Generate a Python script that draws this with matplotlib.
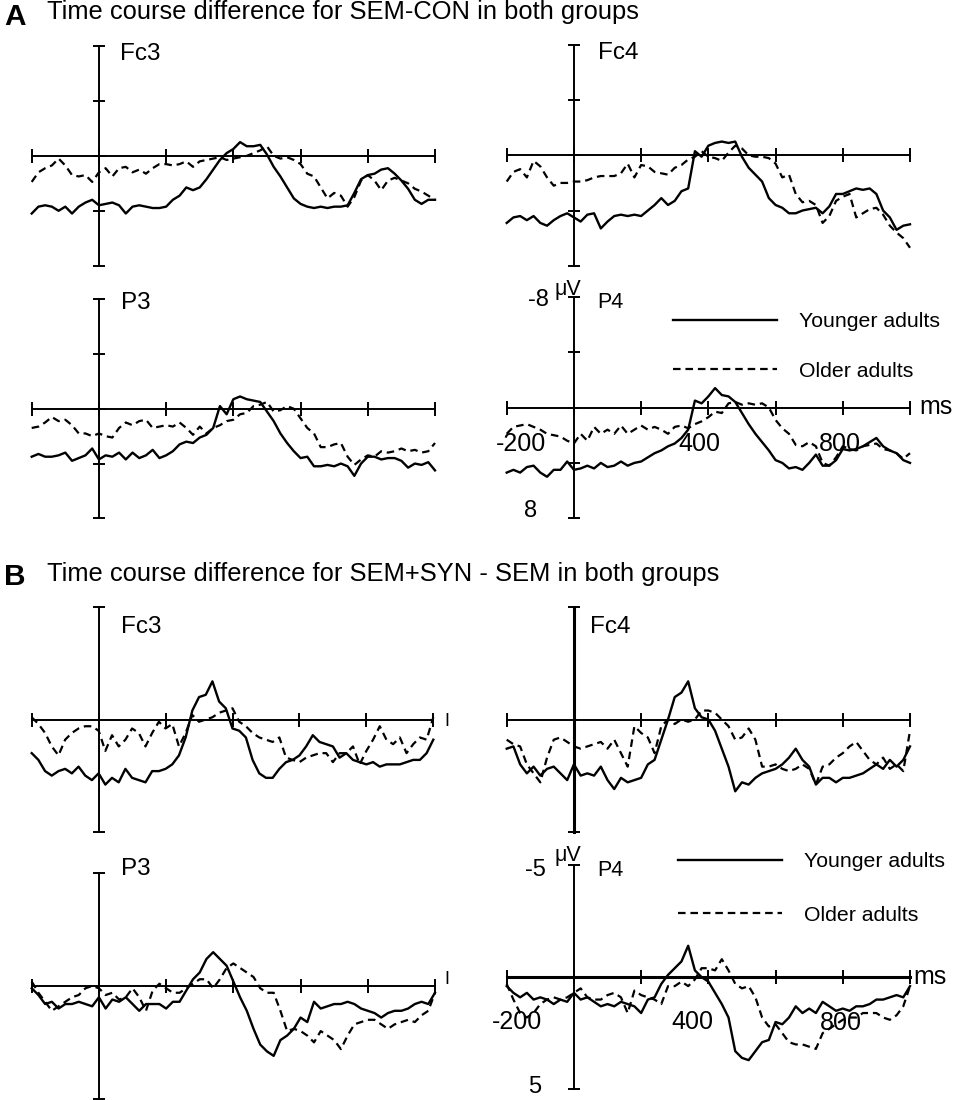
import numpy as np
import matplotlib
matplotlib.use("Agg")
import matplotlib.pyplot as plt

plt.rcParams['font.family'] = ['Liberation Sans', 'DejaVu Sans']

W, H = 970, 1100

# time axis (ms), one sample every 20 ms
t_ms = np.arange(-200, 1001, 20)

# A: SEM-CON difference (uV, negative up)
a_fc3_young = [4.2, 3.7, 3.6, 3.7, 4.0, 3.7, 4.2, 3.7, 3.4, 3.2,
               3.6, 3.5, 3.4, 3.6, 4.2, 3.7, 3.6, 3.7, 3.8, 3.8,
               3.7, 3.2, 2.9, 2.3, 2.5, 2.3, 1.7, 1.0, 0.3, -0.2,
               -0.5, -1.0, -0.7, -0.7, -0.8, -0.1, 0.8, 1.5, 2.3, 3.1,
               3.5, 3.7, 3.8, 3.7, 3.8, 3.7, 3.7, 3.6, 2.7, 1.7,
               1.4, 1.3, 1.0, 0.9, 1.3, 1.8, 2.4, 3.2, 3.5, 3.2, 3.2]
a_fc3_old = [1.9, 1.2, 0.9, 0.7, 0.2, 0.7, 1.4, 1.5, 1.4, 1.9,
             1.2, 0.9, 1.5, 0.9, 0.8, 1.2, 1.0, 1.3, 0.9, 0.6,
             0.6, 0.7, 0.6, 0.4, 0.8, 0.4, 0.3, 0.2, 0.1, 0.3,
             0.2, 0.1, 0.0, -0.2, -0.4, -0.7, 0.0, 0.2, 0.1, 0.3,
             0.6, 1.3, 1.5, 2.3, 3.1, 2.7, 2.9, 3.7, 3.0, 1.8,
             1.4, 1.8, 2.5, 1.8, 1.6, 1.8, 2.0, 2.4, 2.6, 2.9, 3.2]
a_fc4_young = [4.9, 4.5, 4.4, 4.7, 4.4, 4.9, 5.1, 4.7, 4.4, 4.2,
               4.5, 4.8, 4.3, 4.2, 5.3, 4.8, 4.4, 4.3, 4.4, 4.3,
               4.4, 4.0, 3.6, 3.1, 3.6, 3.3, 2.6, 2.4, -0.3, 0.1,
               -0.7, -0.9, -1.0, -0.9, -1.0, 0.1, 0.9, 1.4, 1.9, 3.1,
               3.6, 3.8, 4.2, 4.2, 4.0, 3.9, 3.8, 4.2, 3.7, 2.8,
               2.8, 2.6, 2.4, 2.5, 2.4, 2.8, 4.0, 4.5, 5.4, 5.1, 5.0]
a_fc4_old = [1.9, 1.2, 1.0, 1.6, 0.4, 0.8, 1.6, 2.2, 2.0, 2.0,
             1.9, 1.9, 1.8, 1.6, 1.5, 1.5, 1.5, 1.3, 0.6, 1.6,
             0.7, 0.8, 1.2, 1.3, 1.4, 0.9, 0.7, 0.3, 0.1, -0.3,
             0.1, 0.2, 0.4, -0.2, -0.7, -0.5, 0.0, 0.1, 0.1, 0.2,
             0.6, 1.6, 1.4, 2.8, 3.4, 3.3, 3.6, 4.9, 4.4, 3.3,
             3.0, 2.8, 4.5, 4.2, 3.9, 3.8, 4.3, 5.1, 5.6, 6.0, 6.7]
a_p3_young = [3.5, 3.3, 3.5, 3.5, 3.4, 3.2, 3.8, 3.6, 3.4, 2.9,
              3.7, 3.4, 3.5, 3.2, 3.7, 3.2, 3.6, 3.4, 3.0, 3.6,
              3.4, 3.1, 2.6, 2.4, 2.5, 2.1, 1.9, 1.4, -0.2, 0.4,
              -0.7, -0.9, -0.7, -0.6, -0.5, 0.2, 0.9, 1.8, 2.5, 3.1,
              3.6, 3.5, 4.2, 4.2, 4.1, 4.2, 4.0, 4.2, 4.9, 4.0,
              3.5, 3.5, 3.7, 3.6, 3.6, 3.8, 4.3, 4.0, 4.1, 3.9, 4.5]
a_p3_old = [1.4, 1.3, 1.0, 0.6, 0.9, 0.8, 1.2, 1.8, 1.8, 2.0,
            1.8, 2.0, 2.1, 1.4, 1.0, 1.2, 0.9, 0.8, 1.4, 1.3,
            1.2, 1.3, 1.0, 1.4, 1.9, 1.3, 1.8, 1.4, 1.2, 0.9,
            0.8, 0.4, 0.3, -0.2, -0.3, -0.5, 0.2, 0.1, -0.2, 0.0,
            0.7, 1.4, 1.8, 2.8, 2.8, 2.6, 2.5, 3.5, 4.1, 3.7,
            3.4, 3.5, 3.1, 3.2, 3.1, 2.9, 3.1, 3.0, 3.2, 3.1, 2.5]
a_p4_young = [4.7, 4.5, 4.7, 4.3, 4.2, 4.7, 5.0, 4.5, 4.5, 3.9,
              4.5, 4.4, 4.2, 4.4, 4.0, 4.3, 4.2, 3.9, 4.2, 4.0,
              3.9, 3.6, 3.3, 3.1, 2.8, 2.6, 2.2, 1.6, -0.5, -0.3,
              -0.8, -1.4, -0.9, -0.8, -0.4, 0.4, 1.2, 1.9, 2.5, 3.1,
              3.8, 4.0, 4.4, 4.3, 4.5, 4.0, 3.4, 4.2, 4.2, 3.8,
              3.0, 3.1, 3.0, 2.8, 2.5, 2.2, 2.8, 3.1, 3.3, 3.8, 4.0]
a_p4_old = [1.9, 1.4, 1.3, 1.2, 1.4, 1.6, 1.9, 2.0, 2.1, 2.4,
            2.6, 1.9, 2.4, 1.4, 1.9, 1.6, 1.9, 1.3, 1.9, 1.6,
            1.3, 1.6, 1.4, 1.6, 1.9, 1.4, 1.3, 1.5, 1.2, 1.0,
            0.7, 0.3, 0.4, -0.3, -0.4, -0.2, -0.3, -0.2, -0.3, 0.0,
            0.9, 1.5, 1.9, 2.7, 2.8, 2.5, 2.8, 4.0, 4.2, 3.6,
            2.8, 3.0, 3.1, 2.8, 2.7, 2.6, 3.0, 3.1, 3.3, 3.7, 3.3]

# B: SEM+SYN - SEM difference
b_fc3_young = [1.5, 1.8, 2.3, 2.5, 2.3, 2.2, 2.4, 2.1, 2.5, 2.7,
               2.4, 2.9, 2.6, 2.8, 2.2, 2.6, 2.7, 2.8, 2.3, 2.3,
               2.2, 2.0, 1.6, 0.8, -0.4, -1.0, -1.1, -1.7, -0.8, -0.5,
               0.4, 0.5, 0.8, 1.8, 2.4, 2.6, 2.6, 2.2, 1.9, 1.8,
               1.6, 1.2, 0.7, 1.0, 1.1, 1.2, 1.7, 1.5, 1.8, 1.9,
               2.0, 1.9, 2.1, 2.0, 2.0, 2.0, 1.9, 1.8, 1.8, 1.5, 0.9]
b_fc3_old = [-0.1, 0.2, 0.6, 1.2, 1.6, 0.9, 0.6, 0.4, 0.3, 0.3,
             0.5, 1.4, 0.7, 1.2, 0.9, 0.4, 0.6, 1.2, 0.6, 0.1,
             0.4, 0.2, 1.2, 0.6, -0.2, 0.1, 0.0, -0.1, -0.3, -0.4,
             -0.5, 0.1, 0.3, 0.6, 0.8, 0.9, 1.0, 0.8, 1.7, 1.8,
             1.9, 1.7, 1.6, 1.5, 1.5, 1.9, 1.5, 1.5, 1.2, 2.0,
             1.4, 0.9, 0.3, 0.9, 1.1, 0.8, 1.5, 1.1, 0.8, 0.9, -0.1]
b_fc4_young = [1.3, 1.2, 2.0, 2.4, 2.1, 2.5, 2.2, 2.1, 2.4, 2.7,
               2.0, 2.5, 2.4, 2.5, 2.1, 2.7, 3.1, 2.6, 2.8, 2.7,
               2.6, 2.0, 1.8, 0.9, 0.0, -1.0, -1.2, -1.7, -0.5, -0.1,
               0.0, 0.5, 1.3, 2.1, 3.2, 2.8, 2.9, 2.6, 2.4, 2.3,
               2.2, 2.0, 1.7, 1.3, 1.8, 2.1, 2.9, 2.6, 2.6, 2.8,
               2.6, 2.6, 2.5, 2.4, 2.2, 2.0, 2.2, 1.8, 2.1, 1.8, 1.2]
b_fc4_old = [0.9, 1.1, 1.2, 2.0, 2.4, 2.8, 1.7, 0.9, 0.8, 1.0,
             1.2, 1.3, 1.2, 1.1, 1.0, 1.3, 0.9, 1.5, 2.1, 0.3,
             0.6, 0.8, 1.5, 0.3, 0.0, 0.2, 0.0, 0.1, 0.0, -0.4,
             -0.4, -0.3, 0.0, 0.3, 0.9, 0.8, 0.4, 0.9, 2.1, 2.1,
             2.0, 2.2, 2.3, 2.2, 2.0, 2.2, 2.9, 2.1, 2.0, 1.7,
             1.5, 1.2, 1.0, 1.4, 1.8, 2.0, 1.7, 2.2, 2.0, 2.3, 0.5]
b_p3_young = [0.1, 0.4, 0.8, 0.7, 1.0, 0.8, 0.8, 0.7, 0.8, 0.9,
              0.5, 1.0, 0.6, 0.7, 0.5, 0.8, 1.1, 0.8, 0.8, 0.8,
              1.0, 0.7, 0.7, 0.2, -0.3, -0.6, -1.2, -1.5, -1.2, -0.9,
              -0.2, 0.5, 1.1, 1.9, 2.6, 2.9, 3.1, 2.4, 2.2, 1.9,
              1.4, 1.6, 0.7, 1.0, 0.9, 0.8, 0.8, 0.7, 0.8, 1.0,
              1.1, 1.2, 1.4, 1.2, 1.1, 1.1, 1.0, 0.8, 0.7, 0.8, 0.3]
b_p3_old = [-0.2, 0.3, 0.7, 1.1, 0.9, 0.7, 0.5, 0.4, 0.1, 0.0,
            0.1, 0.4, 0.3, 0.6, 0.5, 0.1, 0.5, 1.1, 0.2, -0.1,
            0.1, 0.3, 0.3, 0.1, -0.1, -0.3, -0.3, 0.1, -0.3, -0.8,
            -1.0, -0.8, -0.6, -0.4, 0.1, 0.3, 0.3, 1.1, 2.0, 1.9,
            2.0, 2.2, 2.5, 2.0, 2.2, 2.4, 2.8, 2.2, 1.7, 1.6,
            1.5, 1.5, 1.7, 1.9, 1.7, 1.6, 1.5, 1.6, 1.3, 1.1, 0.3]
b_p4_young = [0.4, 0.7, 0.9, 0.7, 1.0, 0.9, 1.0, 1.2, 1.0, 1.1,
              0.7, 1.0, 0.9, 1.1, 1.3, 1.2, 1.3, 1.1, 1.2, 1.3,
              1.6, 1.0, 0.9, 0.3, -0.1, -0.4, -0.7, -1.4, -0.3, 0.0,
              0.2, 0.7, 1.2, 1.8, 3.3, 3.6, 3.7, 3.3, 2.9, 2.8,
              2.0, 2.1, 1.8, 1.3, 1.6, 1.4, 1.6, 1.1, 1.3, 1.5,
              1.4, 1.5, 1.3, 1.3, 1.2, 1.0, 1.0, 0.9, 0.8, 0.9, 0.4]
b_p4_old = [0.3, 1.0, 1.6, 1.8, 1.6, 1.2, 1.0, 0.9, 1.0, 0.9,
            0.7, 0.5, 0.9, 1.0, 1.0, 0.8, 0.7, 0.9, 1.6, 0.6,
            0.8, 0.9, 1.0, 1.2, 0.4, 0.4, 0.2, 0.4, 0.1, -0.4,
            -0.4, -0.3, -0.8, -0.3, 0.3, 0.5, 0.4, 0.9, 1.8, 2.2,
            2.1, 2.5, 2.9, 3.0, 3.0, 3.1, 3.2, 2.5, 2.3, 2.1,
            1.9, 1.8, 1.8, 1.6, 1.6, 1.6, 1.8, 1.9, 1.7, 1.3, 0.4]

x_ticks = [-200, 0, 200, 400, 600, 800, 1000]
group_labels = ['Younger adults', 'Older adults']

# pixel boxes: (x at -200 ms, x at 1000 ms, y at -lim, y at +lim)
panels = [
    ('Fc3', a_fc3_young, a_fc3_old, 8, (31.7, 435, 46, 265.7)),
    ('Fc4', a_fc4_young, a_fc4_old, 8, (506.7, 910, 45, 265.7)),
    ('P3', a_p3_young, a_p3_old, 8, (31.7, 435, 299.3, 518.3)),
    ('P4', a_p4_young, a_p4_old, 8, (506.7, 910, 296.7, 518.3)),
    ('Fc3', b_fc3_young, b_fc3_old, 5, (31.7, 433.3, 607.3, 831.7)),
    ('Fc4', b_fc4_young, b_fc4_old, 5, (506.7, 910, 607.3, 831.7)),
    ('P3', b_p3_young, b_p3_old, 5, (31.7, 435, 873.3, 1098.7)),
    ('P4', b_p4_young, b_p4_old, 5, (506.7, 910, 865, 1089.3)),
]

fig = plt.figure(figsize=(W / 100, H / 100), dpi=100)


def ftext(x, y, s, **kw):
    fig.text(x / W, 1 - y / H, s, **kw)


axes = []
for name, young, old, lim, (x0, x1, y0, y1) in panels:
    ax = fig.add_axes([x0 / W, 1 - y1 / H, (x1 - x0) / W, (y1 - y0) / H])
    ax.patch.set_alpha(0)
    ax.set_xlim(-200, 1000)
    ax.set_ylim(lim, -lim)
    for s in ['top', 'right']:
        ax.spines[s].set_visible(False)
    ax.spines['left'].set_position(('data', 0))
    ax.spines['bottom'].set_position(('data', 0))
    ax.spines['left'].set_linewidth(1.4)
    ax.spines['bottom'].set_linewidth(1.4)
    ax.set_xticks(x_ticks)
    if lim == 8:
        ax.set_yticks([-8, -4, 0, 4, 8])
    else:
        ax.set_yticks([-5, 5])
    ax.tick_params(axis='x', direction='inout', length=10.5, width=1.4,
                   labelbottom=False)
    ax.tick_params(axis='y', direction='inout', length=8.5, width=1.4,
                   labelleft=False)
    l1, = ax.plot(t_ms, young, color='black', lw=1.7, clip_on=False)
    l2, = ax.plot(t_ms, old, color='black', lw=1.6,
                  linestyle=(0, (3.4, 2.2)), clip_on=False)
    axes.append((ax, l1, l2))

# heavier axis lines seen in panel B
axes[5][0].spines['left'].set_linewidth(2.2)
axes[7][0].spines['bottom'].set_linewidth(2.2)

# titles
ftext(4, 25, 'A', fontsize=21.5, fontweight='bold', va='baseline')
ftext(47, 19, 'Time course difference for SEM-CON in both groups',
      fontsize=18.4, va='baseline')
ftext(4, 585, 'B', fontsize=21.5, fontweight='bold', va='baseline')
ftext(47, 581, 'Time course difference for SEM+SYN - SEM in both groups',
      fontsize=18.4, va='baseline')

# electrode labels
ftext(120, 53.5, 'Fc3', fontsize=17.5, va='center')
ftext(598, 53, 'Fc4', fontsize=17.5, va='center')
ftext(121, 303, 'P3', fontsize=17.5, va='center')
ftext(597, 302, 'P4', fontsize=15.5, va='center')
ftext(121, 627, 'Fc3', fontsize=17.5, va='center')
ftext(590, 627, 'Fc4', fontsize=17.5, va='center')
ftext(121, 869, 'P3', fontsize=17.5, va='center')
ftext(597, 871, 'P4', fontsize=15.5, va='center')

# scale labels on P4 panels
ftext(538, 300, '-8', fontsize=17, ha='center', va='center')
ftext(568, 289, 'μV', fontsize=15.5, ha='center', va='center')
ftext(531, 511, '8', fontsize=17, ha='center', va='center')
ftext(521, 444, '-200', fontsize=18, ha='center', va='center')
ftext(699, 444, '400', fontsize=18, ha='center', va='center')
ftext(840, 444, '800', fontsize=18, ha='center', va='center')
ftext(919, 407, 'ms', fontsize=18, ha='left', va='center')

ftext(535, 870, '-5', fontsize=17, ha='center', va='center')
ftext(568, 855, 'μV', fontsize=15.5, ha='center', va='center')
ftext(535, 1087, '5', fontsize=17, ha='center', va='center')
ftext(517, 1022, '-200', fontsize=18, ha='center', va='center')
ftext(692, 1022, '400', fontsize=18, ha='center', va='center')
ftext(841, 1023, '800', fontsize=18, ha='center', va='center')
ftext(913, 977, 'ms', fontsize=18, ha='left', va='center')

# stray marks at the right end of the left B panels
ftext(447, 721, 'I', fontsize=13, ha='center', va='center')
ftext(447, 979, 'I', fontsize=13, ha='center', va='center')

# legends
for (ax, l1, l2), (lx, ly, ls) in [(axes[3], (673, 346.5, 1.43)),
                                   (axes[7], (678, 888.5, 1.62))]:
    fig.legend([l1, l2], group_labels, loc='center left',
               bbox_to_anchor=(lx / W, 1 - ly / H), frameon=False,
               fontsize=15.3, handlelength=4.9, handletextpad=1.05,
               labelspacing=ls, borderpad=0, borderaxespad=0)

fig.savefig('out.png', dpi=100)
